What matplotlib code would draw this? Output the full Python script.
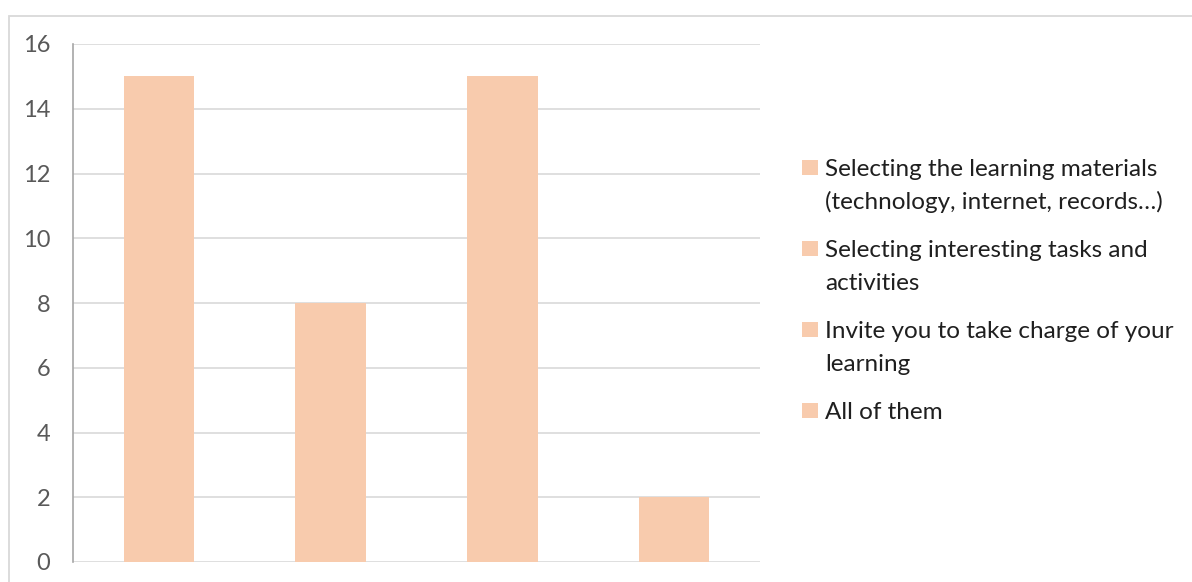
import matplotlib.pyplot as plt
from matplotlib.patches import Rectangle

# Survey responses: how the teacher motivates learners
categories = [
    "Selecting the learning materials\n(technology, internet, records\u2026)",
    "Selecting interesting tasks and\nactivities",
    "Invite you to take charge of your\nlearning",
    "All of them",
]
counts = [15, 8, 15, 2]
y_ticks = [0, 2, 4, 6, 8, 10, 12, 14, 16]

bar_color = "#F8CBAD"
plt.rcParams["font.family"] = ["Lato", "DejaVu Sans"]

W, H = 1192, 582
fig = plt.figure(figsize=(W / 100, H / 100), dpi=100)

# light chart-area frame, running off the right and bottom edges
fig.patches.append(Rectangle((8.5 / W, -0.05), 1.1, 1 - 15.5 / H + 0.05,
                             transform=fig.transFigure, fill=False,
                             edgecolor="#D9D9D9", linewidth=1.3))

ax = fig.add_axes([73 / W, 1 - 562 / H, (760 - 73) / W, (562 - 44) / H])
x = range(len(counts))
ax.bar(x, counts, width=0.41, color=bar_color, zorder=3)

ax.set_xlim(-0.5, len(counts) - 0.5)
ax.set_ylim(0, 16)
ax.set_yticks(y_ticks)
ax.set_xticks([])
ax.tick_params(axis="y", length=0, pad=16.5, labelsize=17, labelcolor="#595959")
ax.grid(axis="y", color="#D9D9D9", linewidth=1.2, zorder=0)
for side in ["top", "right", "bottom"]:
    ax.spines[side].set_visible(False)
ax.spines["left"].set_color("#A6A6A6")
ax.spines["left"].set_linewidth(1.2)

# legend: one square per category, wrapped labels in pixel layout
px = lambda v: v / W
py = lambda v: 1 - v / H
baseline = 175
for label in categories:
    fig.patches.append(Rectangle((px(802), py(baseline)), 16 / W, 15 / H,
                                 transform=fig.transFigure,
                                 facecolor=bar_color, edgecolor="none"))
    lines = label.split("\n")
    for k, line in enumerate(lines):
        fig.text(px(825), py(baseline + 1 + 33 * k), line, fontsize=17.5,
                 color="#1f1f1f", va="baseline", ha="left")
    baseline += 81

fig.savefig("out.png", dpi=100)
